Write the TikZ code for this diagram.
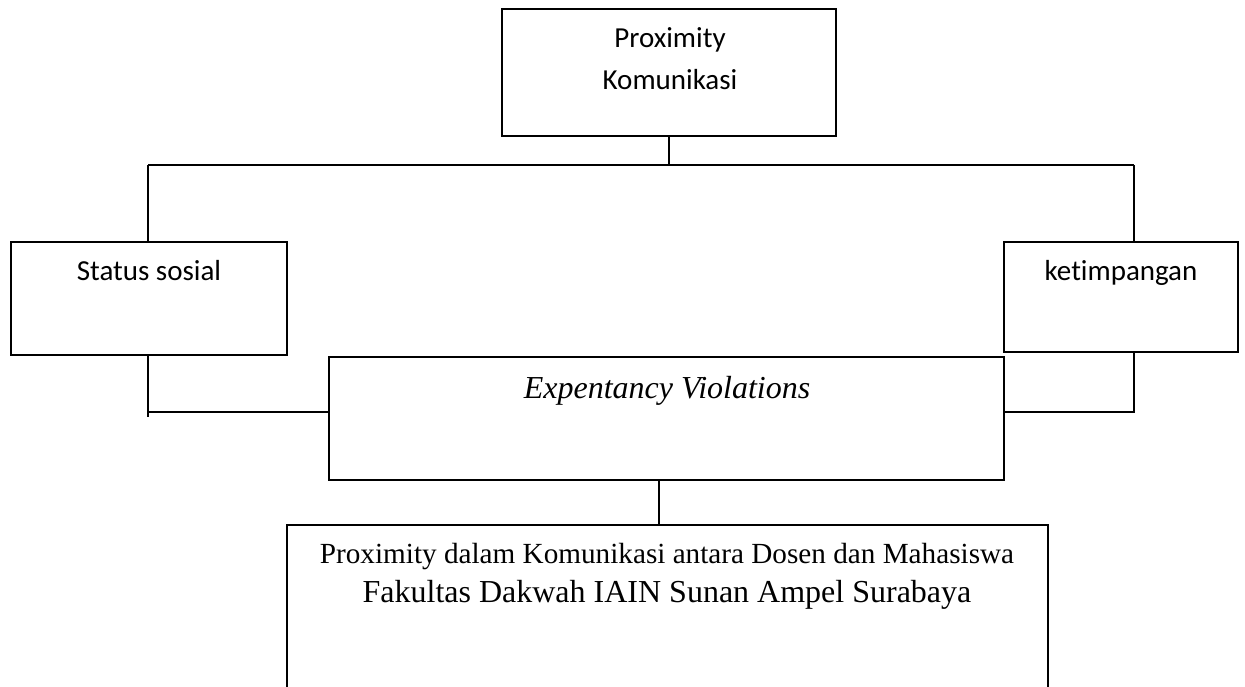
\documentclass[tikz,border=0pt]{standalone}
\usepackage{fontspec}
\newfontfamily\calibrifont[Ligatures=NoCommon]{Carlito}
\newfontfamily\tnrfont{Liberation Serif}
\begin{document}
\begin{tikzpicture}[x=0.5pt,y=-0.5pt,
  box/.style={draw=black, line width=1pt, rectangle, inner sep=0pt, outer sep=0pt, anchor=north west, fill=none},
  conn/.style={draw=black, line width=1pt},
  sanslabel/.style={anchor=base, inner sep=0pt, font=\calibrifont\fontsize{14.5}{17}\selectfont},
  seriflabel/.style={anchor=base, inner sep=0pt, font=\tnrfont\fontsize{14.6}{17}\selectfont},
  seriflarge/.style={anchor=base, inner sep=0pt, font=\tnrfont\fontsize{16}{19}\selectfont}]
\clip (0,0) rectangle (1245,686);
\fill[white] (0,0) rectangle (1245,686);
% boxes
\node[box, minimum width=167pt, minimum height=63.5pt] (top) at (502,9) {};
\node[box, minimum width=138pt, minimum height=56.5pt] (left) at (11,242) {};
\node[box, minimum width=117pt, minimum height=55pt] (right) at (1004,242) {};
\node[box, minimum width=337.5pt, minimum height=61.5pt] (mid) at (329,357) {};
\node[box, minimum width=380.5pt, minimum height=110pt] (bot) at (287,525) {};
% texts
\node[sanslabel] (t1) at (670,47) {Proximity};
\node[sanslabel] (t2) at (670,89) {Komunikasi};
\node[sanslabel] (t3) at (149,280) {Status sosial};
\node[sanslabel] (t4) at (1121,280) {ketimpangan};
\node[seriflarge, font=\tnrfont\itshape\fontsize{16}{19}\selectfont] (t5) at (667,398) {Expentancy Violations};
\node[seriflabel] (t6) at (667,563) {Proximity dalam Komunikasi antara Dosen dan Mahasiswa};
\node[seriflarge] (t7) at (667,602) {Fakultas Dakwah IAIN Sunan Ampel Surabaya};
% connector coordinates
\coordinate (busL) at (148,165);
\coordinate (busR) at (1134,165);
\coordinate (lj) at (148,412);
\coordinate (lstub) at (148,417);
\coordinate (rj) at (1134,412);
\coordinate (mb) at (659,0);
% connectors
\draw[conn] (top.south) -- (top.south |- busL);
\draw[conn] (busL) -- (busR);
\draw[conn] (busL) -- (busL |- left.north);
\draw[conn] (busR) -- (busR |- right.north);
\draw[conn] (left.south -| lstub) -- (lstub);
\draw[conn] (lj) -- (lj -| mid.west);
\draw[conn] (right.south -| rj) -- (rj) -- (rj -| mid.east);
\draw[conn] (mid.south -| mb) -- (bot.north -| mb);
\end{tikzpicture}
\end{document}
